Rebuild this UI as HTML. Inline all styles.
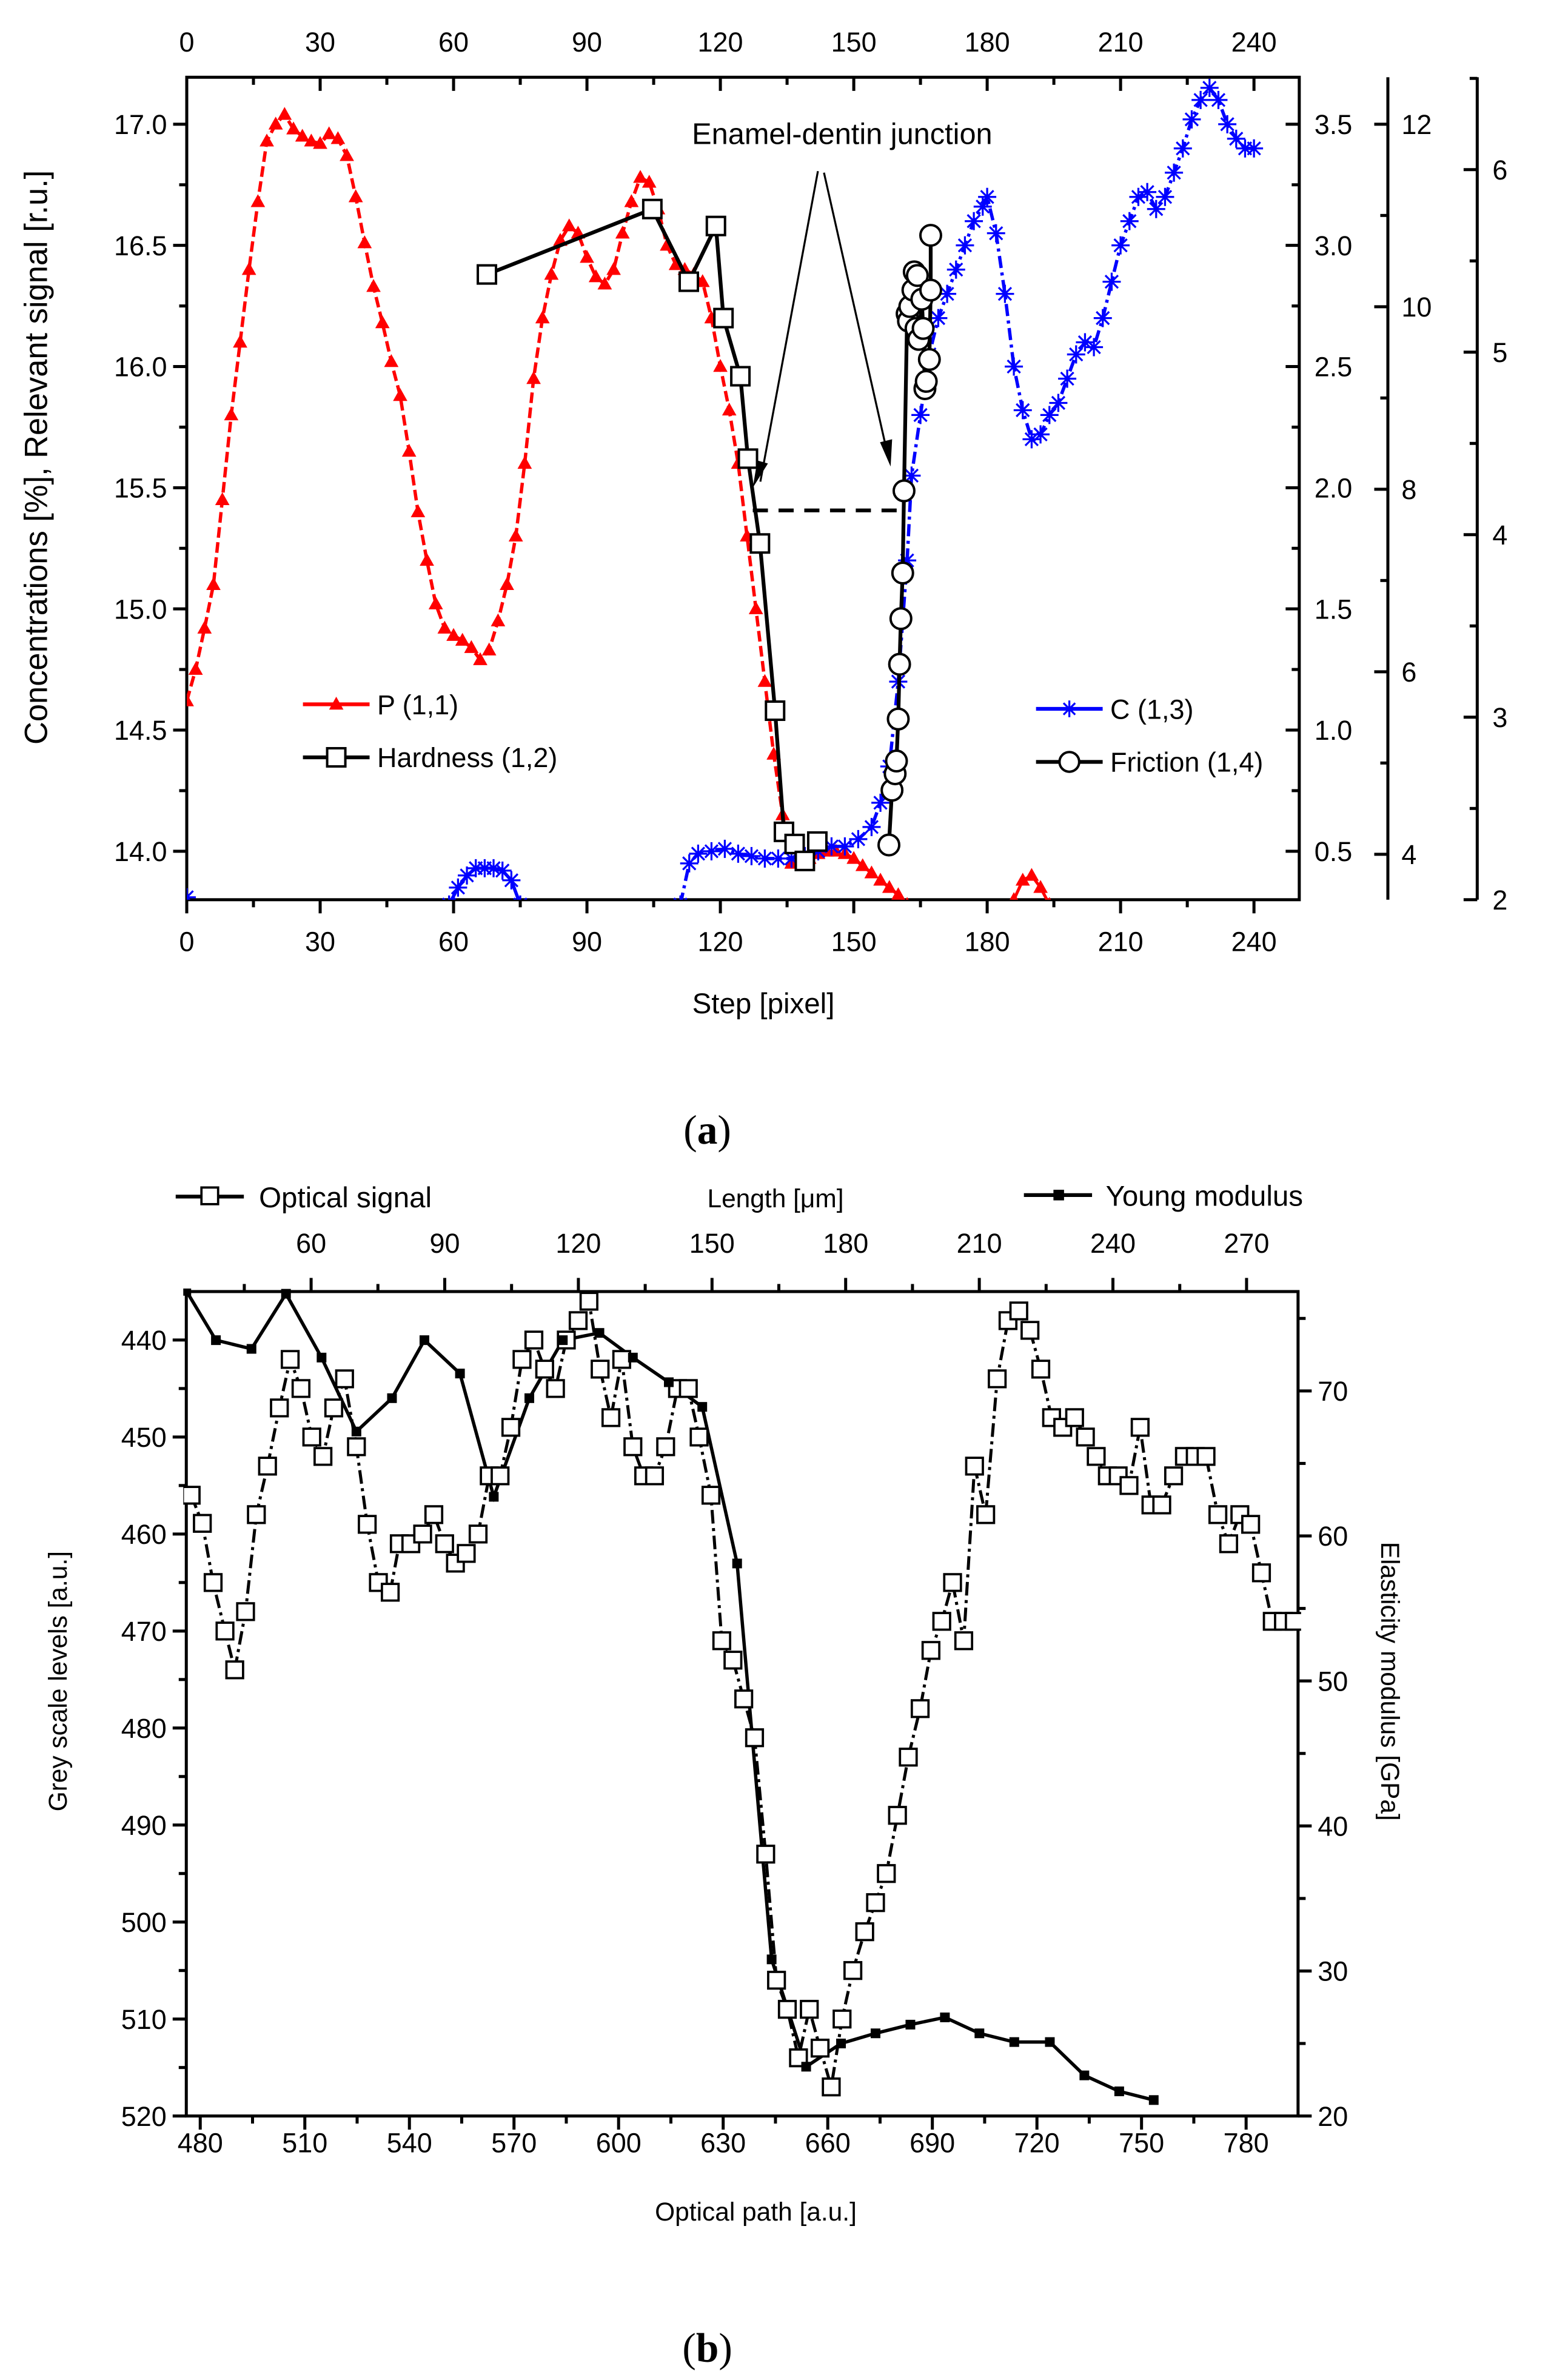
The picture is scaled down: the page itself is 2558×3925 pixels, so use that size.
<!DOCTYPE html>
<html><head><meta charset="utf-8"><style>
html,body{margin:0;padding:0;background:#fff;}
svg{display:block;font-family:"Liberation Sans",Arial,sans-serif;}
</style></head><body>
<svg id="fig" xmlns="http://www.w3.org/2000/svg" width="2558" height="3925" viewBox="0 0 1024 1571.3" preserveAspectRatio="none">
<g id="pa"></g>
<g id="pb"></g>
<text x="467" y="755" font-family="Liberation Serif,serif" font-size="27" text-anchor="middle">(<tspan font-weight="bold">a</tspan>)</text>
<text x="467" y="1559" font-family="Liberation Serif,serif" font-size="27" text-anchor="middle">(<tspan font-weight="bold">b</tspan>)</text>
</svg>
<script>
// ---------- Panel (a) data ----------
const pSteps=[0,2,4,6,8,10,12,14,16,18,20,22,24,26,28,30,32,34,36,38,40,42,44,46,48,50,52,54,56,58,60,62,64,66,68,70,72,74,76,78,80,82,84,86,88,90,92,94,96,98,100,102,104,106,108,110,112,114,116,118,120,122,124,126,128,130,132,134,136,138,140,142,144,146,148,150,152,154,156,158,160,162,164];
const pValues=[14.62,14.75,14.92,15.1,15.45,15.8,16.1,16.4,16.68,16.93,17.0,17.04,16.98,16.95,16.93,16.92,16.96,16.94,16.87,16.7,16.51,16.33,16.18,16.02,15.88,15.65,15.4,15.2,15.02,14.92,14.89,14.87,14.84,14.79,14.83,14.95,15.1,15.3,15.6,15.95,16.2,16.38,16.52,16.58,16.55,16.45,16.37,16.34,16.4,16.55,16.68,16.78,16.76,16.65,16.5,16.42,16.4,16.38,16.35,16.2,16.0,15.82,15.6,15.3,15.0,14.7,14.4,14.15,13.95,13.96,13.97,13.99,14.0,14.0,13.99,13.97,13.94,13.91,13.88,13.85,13.82,13.78,13.74];
const pBumpSteps=[184,186,188,190,192,194,196];
const pBumpValues=[13.7,13.8,13.88,13.9,13.85,13.78,13.7];
const cSteps=[0,59,61,63,65,67,69,71,73,75,111,113,115,118,121,124,127,130,133,136,139,142,145,148,151,154,156,158,160,162,163,165,167,169,171,173,175,177,179,180,182,184,186,188,190,192,194,196,198,200,202,204,206,208,210,212,214,216,218,220,222,224,226,228,230,232,234,236,238,240];
const cValues=[13.81,13.78,13.85,13.9,13.93,13.93,13.93,13.92,13.88,13.78,13.78,13.95,13.99,14.0,14.01,13.99,13.98,13.97,13.97,13.97,13.98,14.0,14.02,14.02,14.05,14.1,14.2,14.35,14.7,15.2,15.55,15.8,16.05,16.2,16.3,16.4,16.5,16.6,16.66,16.7,16.55,16.3,16.0,15.82,15.7,15.72,15.8,15.85,15.95,16.05,16.1,16.08,16.2,16.35,16.5,16.6,16.7,16.72,16.65,16.7,16.8,16.9,17.02,17.1,17.15,17.1,17.0,16.94,16.9,16.9];
const hSteps=[67.5,104.7,112.9,119,120.7,124.5,126.2,128.9,132.3,134.3,136.7,139,141.8];
const hValues=[2.88,3.15,2.85,3.08,2.7,2.46,2.12,1.77,1.08,0.58,0.53,0.46,0.54];
const fSteps=[157.9,158.6,159.3,159.6,160,160.3,160.6,161,161.3,162,162.3,162.6,163.3,163.6,164.3,164,164.6,165.3,165.6,166,166.3,167,167.3,167.3];
const fValues=[2.30,2.6,2.69,2.76,2.99,3.29,3.54,3.79,4.24,5.21,5.17,5.25,5.34,5.44,5.42,5.13,5.07,5.29,5.13,4.8,4.84,4.96,5.34,5.64];
const aXTicks=[0,30,60,90,120,150,180,210,240];
const aLeftTicks=[14.0,14.5,15.0,15.5,16.0,16.5,17.0];
const aR1Ticks=[0.5,1.0,1.5,2.0,2.5,3.0,3.5];
const aR2Ticks=[4,6,8,10,12];
const aR3Ticks=[2,3,4,5,6];

// ---------- Panel (b) data ----------
const optX=[477.4,480.6,483.7,487.1,489.9,493,496.1,499.3,502.7,505.8,508.9,512,515.2,518.3,521.4,524.8,527.9,531.1,534.5,537.1,540.4,543.8,547,550.1,553.2,556.3,559.7,562.9,566,569.1,572.3,575.7,578.8,581.9,585,588.4,591.5,594.7,597.8,600.9,604.1,607.2,610.3,613.5,616.9,620,623.1,626.5,629.6,632.8,635.9,639,642.2,645.3,648.4,651.6,654.7,657.8,661,664.1,667.2,670.6,673.7,676.8,680,683.1,686.5,689.6,692.7,695.8,699,702.1,705.3,708.6,711.7,714.8,718,721.1,724.2,727.4,730.8,733.9,737,740.2,743.3,746.4,749.6,752.7,755.8,759.2,762.3,765.4,768.5,771.9,775,778.2,781.3,784.4,787.5,790.7,793.8];
const optY=[456,458.9,465,470,474,468,458,453,447,442,445,450,452,447,444,451,459,465,466,461,461,460,458,461,463,462,460,454,454,449,442,440,443,445,440,438,436,443,448,442,451,454,454,451,445,445,450,456,471,473,477,481,493,506,509,514,509,513,517,510,505,501,498,495,489,483,478,472,469,465,471,453,458,444,438,437,439,443,448,449,448,450,452,454,454,455,449,457,457,454,452,452,452,458,461,458,459,464,469,469,469];
const ymX=[476,484.5,494.7,504.6,514.8,524.8,535,544.3,554.5,564.2,574.4,584,594.5,604.1,614.4,624,634,643.9,653.8,663.8,673.7,683.7,693.6,703.5,713.5,723.7,733.6,743.6,753.5];
const ymY=[76.9,73.5,72.9,76.7,72.3,67.2,69.5,73.5,71.2,62.7,69.5,73.5,74,72.3,70.6,68.9,58.1,30.8,23.4,25,25.7,26.3,26.8,25.7,25.1,25.1,22.8,21.7,21.1];
const bXTicks=[480,510,540,570,600,630,660,690,720,750,780];
const bTopTicks=[60,90,120,150,180,210,240,270];
const bLeftTicks=[440,450,460,470,480,490,500,510,520];
const bRightTicks=[20,30,40,50,60,70];

const NS="http://www.w3.org/2000/svg";
function mk(parent,tag,attrs,txt){const e=document.createElementNS(NS,tag);for(const k in attrs)e.setAttribute(k,attrs[k]);if(txt!==undefined)e.textContent=txt;parent.appendChild(e);return e;}

// ================= PANEL A =================
const A=document.getElementById('pa');
const aL=123.3,aR=857.8,aT=51,aB=594;
const ax=v=>aL+v*(827.9-aL)/240;
const ayL=v=>562-(v-14)*160;
const ayR1=v=>562-(v-0.5)*160;
const ayR2=v=>564-(v-4)*60.25;
const ayR3=v=>594-(v-2)*120.5;
const r2x=916.3,r3x=975.3;
const defs=mk(document.getElementById('fig'),'defs',{});
const cpA=mk(defs,'clipPath',{id:'clipA'});mk(cpA,'rect',{x:aL,y:aT,width:aR-aL,height:aB-aT});

let frame=mk(A,'rect',{x:aL,y:aT,width:aR-aL,height:aB-aT,fill:'none',stroke:'#000','stroke-width':2});

for(let v=0;v<=250;v+=15){const X=ax(v);const maj=v%30===0;
 mk(A,'line',{x1:X,y1:aB,x2:X,y2:aB+(maj?9:5),stroke:'#000','stroke-width':2});
 mk(A,'line',{x1:X,y1:aT,x2:X,y2:aT+(maj?9:5),stroke:'#000','stroke-width':2});}
aXTicks.forEach(v=>{
 let t=mk(A,'text',{x:ax(v),y:628,'font-size':18,'text-anchor':'middle'},String(v));
 
 let t2=mk(A,'text',{x:ax(v),y:34,'font-size':18,'text-anchor':'middle'},String(v));
 });
for(let v=13.75;v<=17.2;v+=0.25){const Y=ayL(v);if(Y<aT||Y>aB)continue;const maj=Math.abs(v*2-Math.round(v*2))<1e-6;
 mk(A,'line',{x1:aL,y1:Y,x2:aL-(maj?9:5),y2:Y,stroke:'#000','stroke-width':2});
 mk(A,'line',{x1:aR,y1:Y,x2:aR-(maj?9:5),y2:Y,stroke:'#000','stroke-width':2});}
aLeftTicks.forEach(v=>{let t=mk(A,'text',{x:aL-13,y:ayL(v)+6.5,'font-size':18,'text-anchor':'end'},v.toFixed(1));
 });
aR1Ticks.forEach(v=>{let t=mk(A,'text',{x:aR+10,y:ayR1(v)+6.5,'font-size':18,'text-anchor':'start'},v.toFixed(1));
 });
let ax2=mk(A,'line',{x1:r2x,y1:aT,x2:r2x,y2:aB,stroke:'#000','stroke-width':2});

for(let v=4;v<=12.5;v+=1){const Y=ayR2(v);if(Y<aT)continue;mk(A,'line',{x1:r2x,y1:Y,x2:r2x-(v%2===0?9:5),y2:Y,stroke:'#000','stroke-width':2});}
aR2Ticks.forEach(v=>{let t=mk(A,'text',{x:r2x+9,y:ayR2(v)+6.5,'font-size':18,'text-anchor':'start'},String(v));
 });
let ax3=mk(A,'line',{x1:r3x,y1:aT,x2:r3x,y2:aB,stroke:'#000','stroke-width':2});

for(let v=2;v<=6.5;v+=0.5){const Y=ayR3(v);const maj=v%1===0;mk(A,'line',{x1:r3x,y1:Y,x2:r3x-(maj?9:5),y2:Y,stroke:'#000','stroke-width':2});}
aR3Ticks.forEach(v=>{let t=mk(A,'text',{x:r3x+10,y:ayR3(v)+6.5,'font-size':18,'text-anchor':'start'},String(v));
 });
let xt=mk(A,'text',{x:504,y:669,'font-size':19,'text-anchor':'middle'},'Step [pixel]');

let yt=mk(A,'text',{x:0,y:0,'font-size':21,'text-anchor':'middle',transform:'translate(31,302) rotate(-90)'},'Concentrations [%], Relevant signal [r.u.]');


const gA=mk(A,'g',{'clip-path':'url(#clipA)'});
function tri(g,X,Y,c,s){return mk(g,'path',{d:`M${X},${Y-s} L${X+s*0.95},${Y+s*0.7} L${X-s*0.95},${Y+s*0.7}Z`,fill:c});}
function star(g,X,Y,c,s){return mk(g,'path',{d:`M${X-s},${Y}H${X+s}M${X},${Y-s}V${Y+s}M${X-s*.7},${Y-s*.7}L${X+s*.7},${Y+s*.7}M${X-s*.7},${Y+s*.7}L${X+s*.7},${Y-s*.7}`,stroke:c,'stroke-width':1.3,fill:'none'});}
function poly(g,xs,ys,fx,fy,attrs){return mk(g,'polyline',Object.assign({points:xs.map((x,i)=>fx(x)+','+fy(ys[i])).join(' '),fill:'none'},attrs));}
let pl=poly(gA,pSteps,pValues,ax,ayL,{stroke:'#f00','stroke-width':2.2,'stroke-dasharray':'7 3'});

let pl2=poly(gA,pBumpSteps,pBumpValues,ax,ayL,{stroke:'#f00','stroke-width':2});

pSteps.forEach((s,i)=>{const m=tri(gA,ax(s),ayL(pValues[i]),'#f00',5);});
pBumpSteps.forEach((s,i)=>{const m=tri(gA,ax(s),ayL(pBumpValues[i]),'#f00',5);});
let cl=poly(gA,cSteps.slice(1,10),cValues.slice(1,10),ax,ayL,{stroke:'#00f','stroke-width':2.2});

let cl2=poly(gA,cSteps.slice(10),cValues.slice(10),ax,ayL,{stroke:'#00f','stroke-width':2.2,'stroke-dasharray':'8 3 2 3'});

cSteps.forEach((s,i)=>{const m=star(gA,ax(s),ayL(cValues[i]),'#00f',6);});
let ann=mk(A,'text',{x:556,y:95,'font-size':19.5,'text-anchor':'middle'},'Enamel-dentin junction');

mk(A,'path',{d:'M540,113 L502,318 M544,114 L586,300',stroke:'#000','stroke-width':1.3,fill:'none'});
mk(A,'path',{d:'M497,322 L500,304 L507,306Z M588,308 L581,292 L589,290Z',fill:'#000'});
let dash=mk(A,'line',{x1:497,y1:337,x2:596,y2:337,stroke:'#000','stroke-width':2.5,'stroke-dasharray':'10 7'});

let hl=poly(A,hSteps,hValues,ax,ayR1,{stroke:'#000','stroke-width':2.5});

hSteps.forEach((s,i)=>{const X=ax(s),Y=ayR1(hValues[i]);const m=mk(A,'rect',{x:X-6,y:Y-6,width:12,height:12,fill:'#fff',stroke:'#000','stroke-width':1.6});
 });
let fl=poly(A,fSteps,fValues,ax,ayR3,{stroke:'#000','stroke-width':2.5});

fSteps.forEach((s,i)=>{const m=mk(A,'circle',{cx:ax(s),cy:ayR3(fValues[i]),r:6.8,fill:'#fff',stroke:'#000','stroke-width':1.6});
 });
function legA(x1,y,label,kind,name){const g=mk(A,'g',{});
 const c=kind==='tri'?'#f00':kind==='star'?'#00f':'#000';
 mk(g,'line',{x1:x1,y1:y,x2:x1+44,y2:y,stroke:c,'stroke-width':2.5});
 const cx=x1+22;
 if(kind==='tri')tri(g,cx,y,c,5);else if(kind==='star')star(g,cx,y,c,5.5);
 else if(kind==='sq')mk(g,'rect',{x:cx-6,y:y-6,width:12,height:12,fill:'#fff',stroke:'#000','stroke-width':1.6});
 else mk(g,'circle',{cx:cx,cy:y,r:6.5,fill:'#fff',stroke:'#000','stroke-width':1.6});
 mk(g,'text',{x:x1+49,y:y+6.5,'font-size':18},label);}
legA(200,465,'P (1,1)','tri','legend-p');
legA(200,500,'Hardness (1,2)','sq','legend-hardness');
legA(684,468,'C (1,3)','star','legend-c');
legA(684,503,'Friction (1,4)','circ','legend-friction');

// ================= PANEL B =================
const B=document.getElementById('pb');
const bL=123,bR=857,bT=852.7,bB=1397;
const bx=v=>132.2+(v-480)*2.3017;
const btx=v=>205.4+(v-60)*2.941;
const by=v=>884.7+(v-440)*6.404;
const byR=v=>1397-(v-20)*9.574;
const cpB=mk(defs,'clipPath',{id:'clipB'});mk(cpB,'rect',{x:bL-2,y:bT-2,width:bR-bL+4,height:bB-bT+4});
let fb=mk(B,'rect',{x:bL,y:bT,width:bR-bL,height:bB-bT,fill:'none',stroke:'#000','stroke-width':2});

for(let v=480;v<=795;v+=15){const X=bx(v);if(X>bR)continue;const maj=v%30===0;mk(B,'line',{x1:X,y1:bB,x2:X,y2:bB+(maj?9:5),stroke:'#000','stroke-width':2});}
bXTicks.forEach(v=>{let t=mk(B,'text',{x:bx(v),y:1421,'font-size':18,'text-anchor':'middle'},String(v));
 });
for(let v=45;v<=285;v+=15){const X=btx(v);if(X<bL||X>bR)continue;const maj=v%30===0;mk(B,'line',{x1:X,y1:bT,x2:X,y2:bT-(maj?9:5),stroke:'#000','stroke-width':2});}
bTopTicks.forEach(v=>{let t=mk(B,'text',{x:btx(v),y:827,'font-size':18,'text-anchor':'middle'},String(v));
 });
for(let v=440;v<=520;v+=5){const Y=by(v);const maj=v%10===0;mk(B,'line',{x1:bL,y1:Y,x2:bL-(maj?9:5),y2:Y,stroke:'#000','stroke-width':2});}
bLeftTicks.forEach(v=>{let t=mk(B,'text',{x:bL-13,y:by(v)+6.5,'font-size':18,'text-anchor':'end'},String(v));
 });
for(let v=20;v<=75;v+=5){const Y=byR(v);const maj=v%10===0;mk(B,'line',{x1:bR,y1:Y,x2:bR+(maj?9:5),y2:Y,stroke:'#000','stroke-width':2});}
bRightTicks.forEach(v=>{let t=mk(B,'text',{x:bR+13,y:byR(v)+6.5,'font-size':18,'text-anchor':'start'},String(v));
 });
let bxt=mk(B,'text',{x:499,y:1466,'font-size':17,'text-anchor':'middle'},'Optical path [a.u.]');

let bt=mk(B,'text',{x:512,y:797,'font-size':17,'text-anchor':'middle'},'Length [\u03bcm]');

let byt=mk(B,'text',{x:0,y:0,'font-size':17,'text-anchor':'middle',transform:'translate(44,1110) rotate(-90)'},'Grey scale levels [a.u.]');

let byr=mk(B,'text',{x:0,y:0,'font-size':17,'text-anchor':'middle',transform:'translate(912,1110) rotate(90)'},'Elasticity modulus [GPa]');

const gB=mk(B,'g',{'clip-path':'url(#clipB)'});
let ol=poly(gB,optX,optY,bx,by,{stroke:'#000','stroke-width':2,'stroke-dasharray':'9 3 2 3'});

let yl=poly(gB,ymX,ymY,bx,byR,{stroke:'#000','stroke-width':2.2});

optX.forEach((v,i)=>{const X=bx(v),Y=by(optY[i]);const m=mk(gB,'rect',{x:X-5.5,y:Y-5.5,width:11,height:11,fill:'#fff',stroke:'#000','stroke-width':1.5});
 });
ymX.forEach((v,i)=>{const X=bx(v),Y=byR(ymY[i]);const m=mk(gB,'rect',{x:X-3.2,y:Y-3.2,width:6.4,height:6.4,fill:'#000'});
 });
const lg1=mk(B,'g',{});
mk(lg1,'line',{x1:116,y1:790,x2:161,y2:790,stroke:'#000','stroke-width':2.5});
mk(lg1,'rect',{x:133,y:784,width:11,height:11,fill:'#fff',stroke:'#000','stroke-width':1.5});
mk(lg1,'text',{x:171,y:797,'font-size':19},'Optical signal');
const lg2=mk(B,'g',{});
mk(lg2,'line',{x1:676,y1:789,x2:721,y2:789,stroke:'#000','stroke-width':2.5});
mk(lg2,'rect',{x:695.5,y:785.5,width:7,height:7,fill:'#000'});
mk(lg2,'text',{x:730,y:796,'font-size':19},'Young modulus');
</script>
</body></html>
